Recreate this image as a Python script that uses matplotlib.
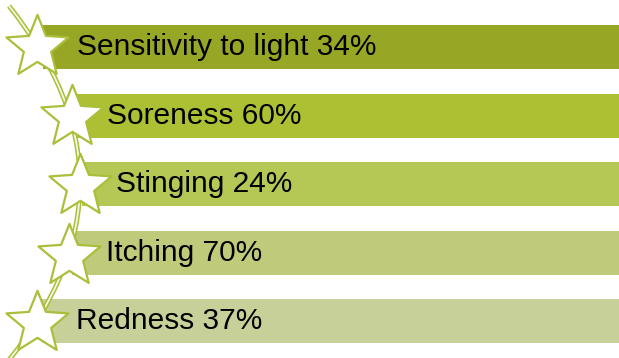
import matplotlib.pyplot as plt
from matplotlib.path import Path
import matplotlib.patches as patches

# data
labels = ['Sensitivity to light', 'Soreness', 'Stinging', 'Itching', 'Redness']
percents = [34, 60, 24, 70, 37]
colors = ['#97a625', '#adc033', '#b5c754', '#bfcb7a', '#c8d09a']

# layout (pixel space)
W, H = 619, 358
bar_y = [47, 115.5, 184, 253, 321]
bar_left = [43, 73, 82, 72, 42]
star_x = [37, 72, 80, 69, 37]
star_y = [47, 117, 186, 256, 323]
star_color = '#aabf3a'

fig = plt.figure(figsize=(W / 100, H / 100), dpi=100)
ax = fig.add_axes([0, 0, 1, 1])
ax.set_xlim(0, W)
ax.set_ylim(H, 0)
ax.axis('off')

# bars all run to the right edge
for y, left, c in zip(bar_y, bar_left, colors):
    ax.barh(y, W - left, left=left, height=44, color=c, edgecolor='none', zorder=1)

# curved double line linking the stars
verts = [(9, 6), (151, 183), (9, 360)]
codes = [Path.MOVETO, Path.CURVE3, Path.CURVE3]
curve = Path(verts, codes)
ax.add_patch(patches.PathPatch(curve, facecolor='none', edgecolor=star_color, lw=3.5, zorder=2))
ax.add_patch(patches.PathPatch(curve, facecolor='none', edgecolor='#f4f7e4', lw=1.3, zorder=2))

# stars (a bit slimmer than the built-in star marker)
star = Path.unit_regular_star(5, 0.44)
ax.plot(star_x, star_y, linestyle='none', marker=star, markersize=47,
        markerfacecolor='white', markeredgecolor=star_color, markeredgewidth=1.6, zorder=3)

# labels
for y, left, lab, p in zip(bar_y, bar_left, labels, percents):
    ax.text(left + 34, y, f'{lab} {p}%', fontsize=21.5, family='Liberation Sans',
            va='center', ha='left', color='black', zorder=4)

fig.savefig('out.png', dpi=100)
